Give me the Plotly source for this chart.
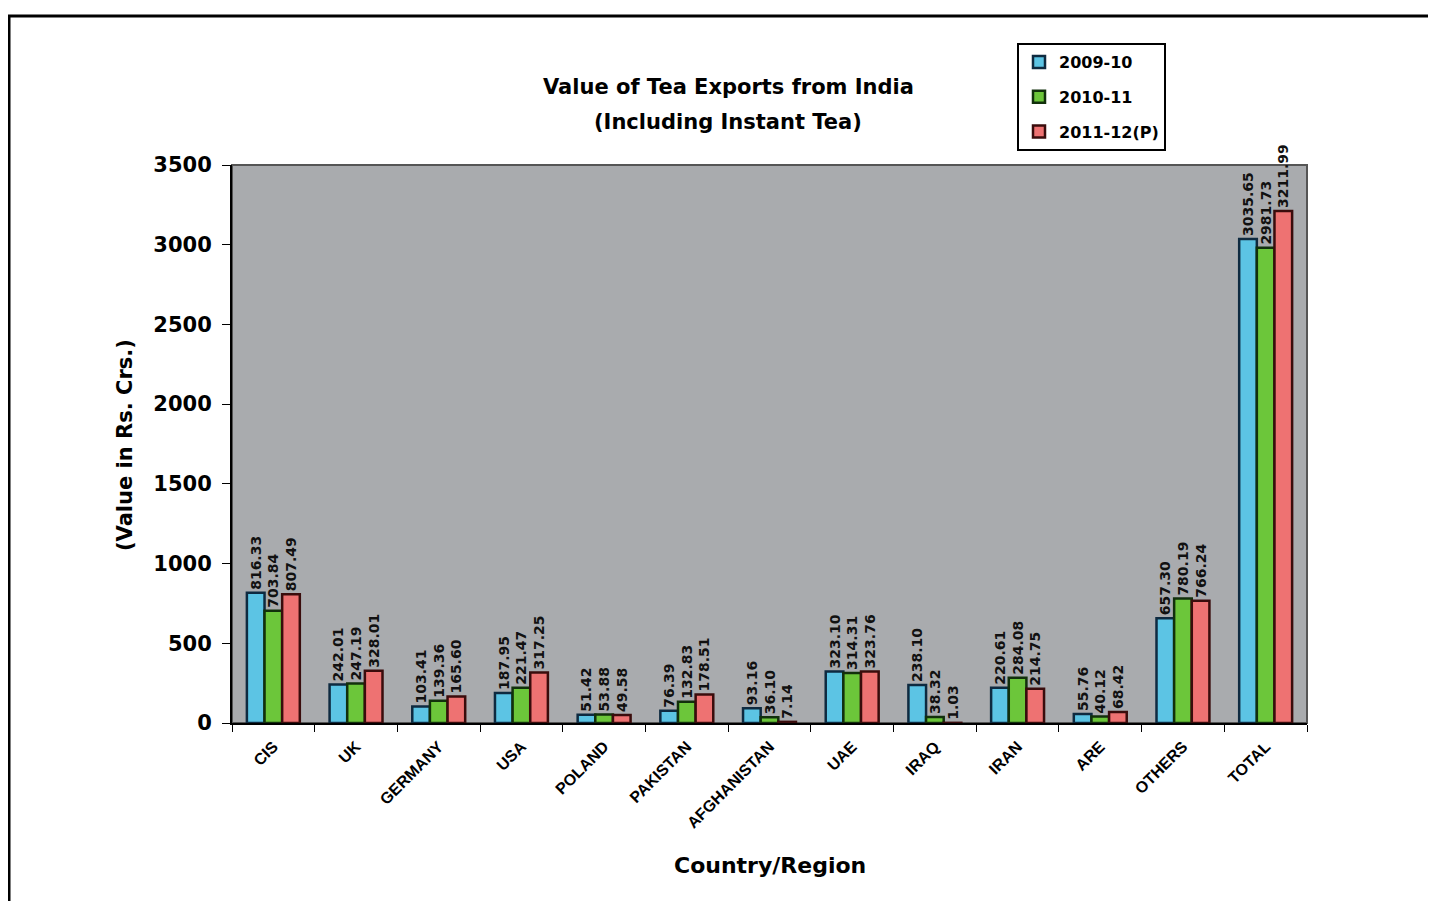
import plotly.graph_objects as go

categories = ["CIS", "UK", "GERMANY", "USA", "POLAND", "PAKISTAN", "AFGHANISTAN",
              "UAE", "IRAQ", "IRAN", "ARE", "OTHERS", "TOTAL"]
series_names = ["2009-10", "2010-11", "2011-12(P)"]
v_2009_10 = [816.33, 242.01, 103.41, 187.95, 51.42, 76.39, 93.16, 323.10, 238.10, 220.61, 55.76, 657.30, 3035.65]
v_2010_11 = [703.84, 247.19, 139.36, 221.47, 53.88, 132.83, 36.10, 314.31, 38.32, 284.08, 40.12, 780.19, 2981.73]
v_2011_12 = [807.49, 328.01, 165.60, 317.25, 49.58, 178.51, 7.14, 323.76, 1.03, 214.75, 68.42, 766.24, 3211.99]
y_ticks = [0, 500, 1000, 1500, 2000, 2500, 3000, 3500]

fills = ["#5CC4E4", "#6CC63A", "#EE7272"]
edges = ["#0E2A40", "#12300C", "#3A0C0C"]
WIDE = "DejaVu Sans, Verdana, sans-serif"
NARROW = "Liberation Sans, Arial, sans-serif"

fig = go.Figure()
for i, (name, vals) in enumerate(zip(series_names, [v_2009_10, v_2010_11, v_2011_12])):
    fig.add_trace(go.Bar(
        x=categories, y=vals, name=name, legendgroup=name,
        marker=dict(color=fills[i], line=dict(color=edges[i], width=2.5)),
        texttemplate="%{y:.2f}", textposition="outside", textangle=-90,
        textfont=dict(family=WIDE, size=14, color="#111", weight="bold"),
        cliponaxis=False, constraintext="none",
    ))

# page body has an 8px margin in the browser; reference coords are compensated
OFF = 8
W, H = 1436, 901
PL, PR, PT, PB = 232, 1307, 165, 723   # plot area in reference pixels
L, T = PL - OFF, PT - OFF
R, B = W - (PR - OFF), H - (PB - OFF)
def px(x): return (x - PL) / (PR - PL)
def py(y): return (PB - y) / (PB - PT)

fig.update_layout(
    width=W, height=H,
    margin=dict(l=L, r=R, t=T, b=B),
    paper_bgcolor="white", plot_bgcolor="#A9ABAE",
    barmode="group", bargap=0.36, bargroupgap=0,
    font=dict(family=WIDE, color="black"),
    legend=dict(x=px(1017), y=py(43), xanchor="left", yanchor="top",
                bgcolor="white", bordercolor="black", borderwidth=2,
                font=dict(family=WIDE, size=16, color="black", weight="bold"),
                tracegroupgap=11, traceorder="grouped"),
    xaxis=dict(type="category", tickson="boundaries", ticks="outside", ticklen=7,
               tickcolor="black", tickangle=-45, showline=True, linecolor="black",
               linewidth=2, showgrid=False, ticklabelstandoff=6,
               tickfont=dict(family=NARROW, size=16, color="black", weight="bold")),
    yaxis=dict(range=[0, 3500], tickvals=y_ticks, ticks="outside", ticklen=8,
               tickcolor="black", showline=True, linecolor="black", linewidth=2,
               showgrid=False, zeroline=False, ticklabelstandoff=6,
               tickfont=dict(family=WIDE, size=21, color="black", weight="bold")),
    shapes=[
        dict(type="rect", xref="paper", yref="paper", x0=0, x1=1, y0=0, y1=1,
             line=dict(color="#555", width=2), layer="below"),
        dict(type="rect", xref="paper", yref="paper", x0=px(9), x1=px(1500),
             y0=py(1000), y1=py(16), line=dict(color="black", width=3)),
    ],
    annotations=[
        dict(text="<b>Value of Tea Exports from India</b>", xref="paper", yref="paper",
             x=px(728), y=py(87), xanchor="center", yanchor="middle", showarrow=False,
             font=dict(family=WIDE, size=21)),
        dict(text="<b>(Including Instant Tea)</b>", xref="paper", yref="paper",
             x=px(728), y=py(122), xanchor="center", yanchor="middle", showarrow=False,
             font=dict(family=WIDE, size=21)),
        dict(text="<b>(Value in Rs. Crs.)</b>", xref="paper", yref="paper",
             x=px(125), y=py(445), xanchor="center", yanchor="middle", showarrow=False,
             textangle=-90, font=dict(family=WIDE, size=21)),
        dict(text="<b>Country/Region</b>", xref="paper", yref="paper",
             x=px(770), y=py(865), xanchor="center", yanchor="middle", showarrow=False,
             font=dict(family=WIDE, size=22)),
    ],
)

fig.write_html("out.html")
